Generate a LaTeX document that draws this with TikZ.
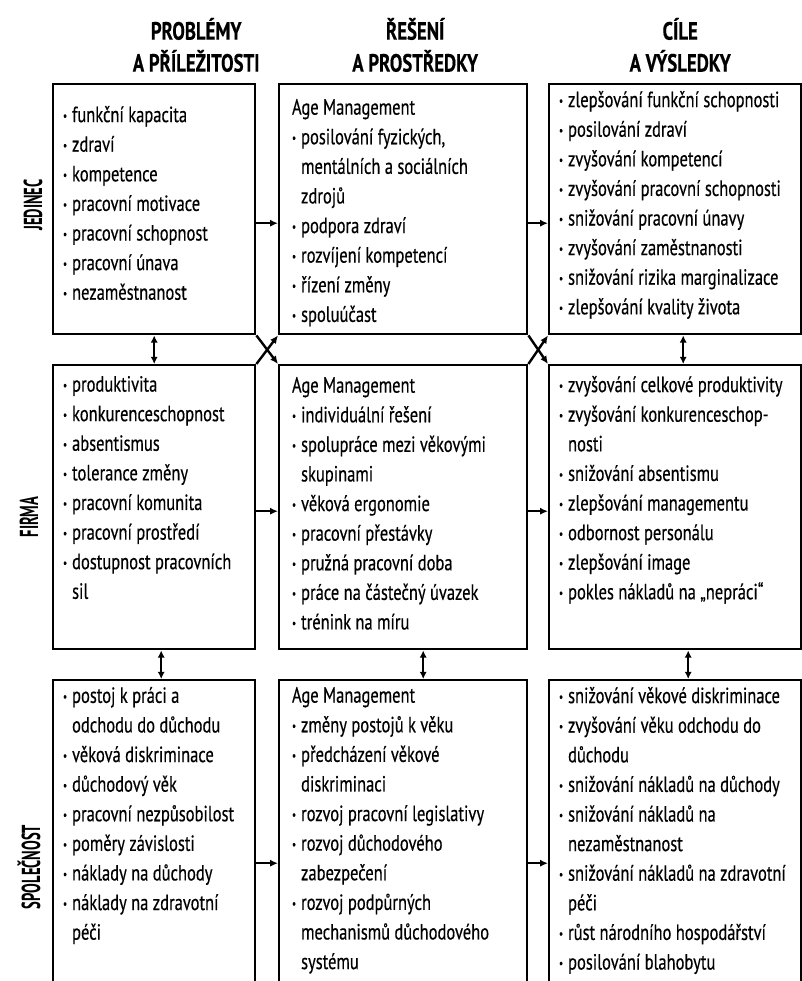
\documentclass[tikz,border=0pt]{standalone}
\usepackage{fontspec}
\usepackage{graphicx}
\usetikzlibrary{positioning,arrows.meta}
\newfontfamily\bodyfont[FakeStretch=0.75,FakeBold=0.4]{PT Sans}
\newfontfamily\labfont[FakeStretch=0.56]{PT Sans}
\newcommand{\itm}{\raisebox{0.2ex}{\scalebox{0.55}{\textbullet}}\hspace{2.5pt}}
\newcommand{\ind}{\hphantom{\itm}}
\tikzset{
    box/.style={draw, line width=1.2pt, anchor=north west, inner sep=0pt},
    txt/.style={align=left, inner sep=0pt, outer sep=0pt,
        font=\bodyfont\fontsize{11}{14.8}\selectfont},
    colhead/.style={align=center, inner sep=0pt, outer sep=0pt,
        font=\bodyfont\bfseries\fontsize{12.5}{16}\selectfont},
    rowhead/.style={rotate=90, inner sep=0pt,
        font=\labfont\bfseries\fontsize{13}{15}\selectfont},
    flow/.style={-{Latex[length=4pt,width=3.6pt]}, line width=1.2pt},
    both/.style={{Latex[length=3.6pt,width=3.6pt]}-{Latex[length=3.6pt,width=3.6pt]}, line width=1.2pt}
}
\begin{document}
\begin{tikzpicture}[x=0.5pt, y=-0.5pt]
    \useasboundingbox (0,0) rectangle (802,981);
    \clip (0,0) rectangle (802,981);
    % boxes
    \node[box, minimum width=101pt, minimum height=125pt] (p1) at (52,83) {};
    \node[box, minimum width=124pt, minimum height=125pt] (s1) at (278,83) {};
    \node[box, minimum width=126pt, minimum height=125pt] (c1) at (548,83) {};
    \node[box, minimum width=101pt, minimum height=142pt] (p2) at (52,364) {};
    \node[box, minimum width=124pt, minimum height=142pt] (s2) at (278,364) {};
    \node[box, minimum width=126pt, minimum height=142pt] (c2) at (548,364) {};
    \node[box, minimum width=101pt, minimum height=183pt] (p3) at (52,679) {};
    \node[box, minimum width=124pt, minimum height=183pt] (s3) at (278,679) {};
    \node[box, minimum width=126pt, minimum height=183pt] (c3) at (548,679) {};
    % headings
    \node[colhead, above=5.5pt of p1, xshift=21pt] (h1) {PROBLÉMY\\A PŘÍLEŽITOSTI};
    \node[colhead, above=5.5pt of s1, xshift=6pt] (h2) {ŘEŠENÍ\\A PROSTŘEDKY};
    \node[colhead, above=5.5pt of c1, xshift=2.5pt] (h3) {CÍLE\\A VÝSLEDKY};
    \node[rowhead] (r1) at (33,205) {JEDINEC};
    \node[rowhead] (r2) at (29,517) {FIRMA};
    \node[rowhead] (r3) at (29,867) {SPOLEČNOST};
    % texts
    \node[txt, below right=11.5pt and 5.5pt of p1.north west] (p1t) {\itm funkční kapacita\\
        \itm zdraví\\ \itm kompetence\\ \itm pracovní motivace\\ \itm pracovní schopnost\\
        \itm pracovní únava\\ \itm nezaměstnanost};
    \node[txt, below right=8pt and 7pt of s1.north west] (s1t) {Age Management\\
        \itm posilování fyzických,\\ \ind mentálních a sociálních\\ \ind zdrojů\\
        \itm podpora zdraví\\ \itm rozvíjení kompetencí\\ \itm řízení změny\\ \itm spoluúčast};
    \node[txt, below right=4pt and 5.5pt of c1.north west] (c1t) {\itm zlepšování funkční schopnosti\\
        \itm posilování zdraví\\ \itm zvyšování kompetencí\\ \itm zvyšování pracovní schopnosti\\
        \itm snižování pracovní únavy\\ \itm zvyšování zaměstnanosti\\
        \itm snižování rizika marginalizace\\ \itm zlepšování kvality života};
    \node[txt, below right=6pt and 5.5pt of p2.north west] (p2t) {\itm produktivita\\
        \itm konkurenceschopnost\\ \itm absentismus\\ \itm tolerance změny\\
        \itm pracovní komunita\\ \itm pracovní prostředí\\ \itm dostupnost pracovních\\ \ind sil};
    \node[txt, below right=6.5pt and 7pt of s2.north west] (s2t) {Age Management\\
        \itm individuální řešení\\ \itm spolupráce mezi věkovými\\ \ind skupinami\\
        \itm věková ergonomie\\ \itm pracovní přestávky\\ \itm pružná pracovní doba\\
        \itm práce na částečný úvazek\\ \itm trénink na míru};
    \node[txt, below right=6pt and 5.5pt of c2.north west] (c2t) {\itm zvyšování celkové produktivity\\
        \itm zvyšování konkurenceschop-\\ \ind nosti\\ \itm snižování absentismu\\
        \itm zlepšování managementu\\ \itm odbornost personálu\\ \itm zlepšování image\\
        \itm pokles nákladů na „nepráci“};
    \node[txt, below right=4pt and 5.5pt of p3.north west] (p3t) {\itm postoj k práci a\\
        \ind odchodu do důchodu\\ \itm věková diskriminace\\ \itm důchodový věk\\
        \itm pracovní nezpůsobilost\\ \itm poměry závislosti\\ \itm náklady na důchody\\
        \itm náklady na zdravotní\\ \ind péči};
    \node[txt, below right=4pt and 7pt of s3.north west] (s3t) {Age Management\\
        \itm změny postojů k věku\\ \itm předcházení věkové\\ \ind diskriminaci\\
        \itm rozvoj pracovní legislativy\\ \itm rozvoj důchodového\\ \ind zabezpečení\\
        \itm rozvoj podpůrných\\ \ind mechanismů důchodového\\ \ind systému};
    \node[txt, below right=4pt and 5.5pt of c3.north west] (c3t) {\itm snižování věkové diskriminace\\
        \itm zvyšování věku odchodu do\\ \ind důchodu\\ \itm snižování nákladů na důchody\\
        \itm snižování nákladů na\\ \ind nezaměstnanost\\ \itm snižování nákladů na zdravotní\\
        \ind péči\\ \itm růst národního hospodářství\\ \itm posilování blahobytu};
    % arrows
    \draw[flow] ([yshift=-7pt]p1.east) -- ([yshift=-7pt]s1.west);
    \draw[flow] ([yshift=-7pt]s1.east) -- ([yshift=-7pt]c1.west);
    \draw[flow] ([yshift=-2pt]p2.east) -- ([yshift=-2pt]s2.west);
    \draw[flow] ([yshift=-2pt]s2.east) -- ([yshift=-2pt]c2.west);
    \draw[flow] (p3.east) -- (s3.west);
    \draw[flow] (s3.east) -- (c3.west);
    \draw[flow] (p1.south east) -- (s2.north west);
    \draw[flow] (p2.north east) -- (s1.south west);
    \draw[flow] (s1.south east) -- (c2.north west);
    \draw[flow] (s2.north east) -- (c1.south west);
    \draw[both] (p1.south) -- (p2.north);
    \draw[both] ([xshift=3.5pt]p2.south) -- ([xshift=3.5pt]p3.north);
    \draw[both] ([xshift=10pt]s2.south) -- ([xshift=10pt]s3.north);
    \draw[both] ([xshift=4pt]c1.south) -- ([xshift=4pt]c2.north);
    \draw[both] ([xshift=6.5pt]c2.south) -- ([xshift=6.5pt]c3.north);
\end{tikzpicture}
\end{document}
